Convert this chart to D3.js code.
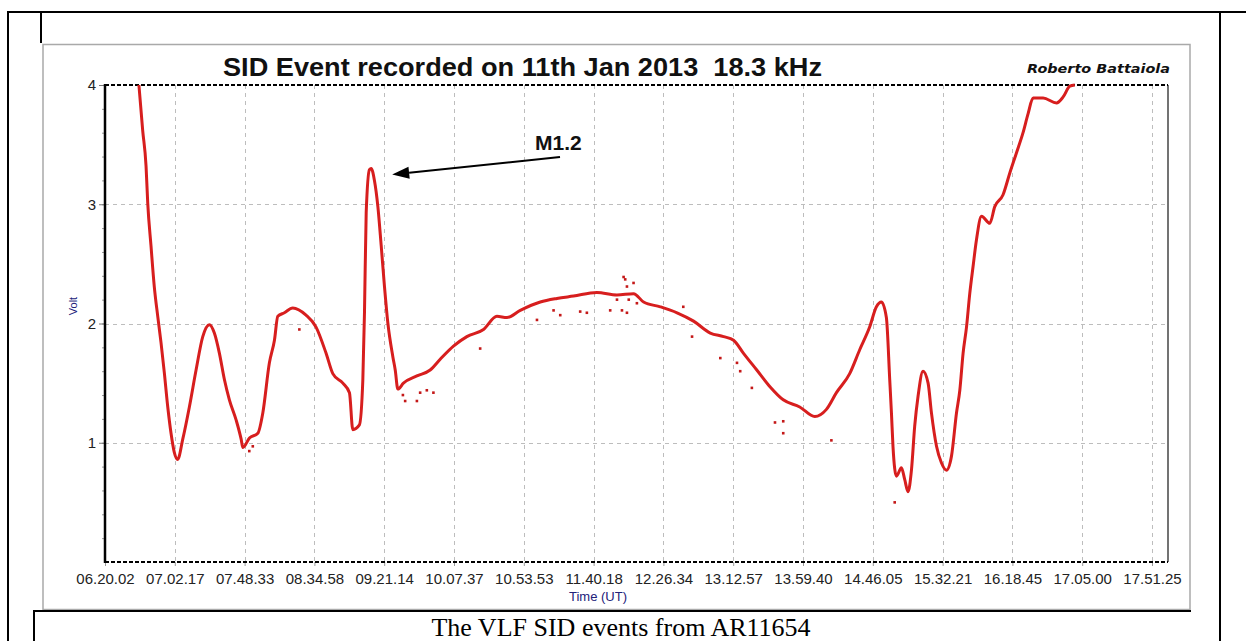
<!DOCTYPE html>
<html>
<head>
<meta charset="utf-8">
<script src="https://cdn.jsdelivr.net/npm/d3@7"></script>
<style>
  html, body { margin: 0; padding: 0; background: #fff; }
  svg text { font-family: "Liberation Sans", Arial, sans-serif; }
</style>
</head>
<body>
<div id="chart"></div>
<script>
// tick labels of the time axis (UT, hh.mm.ss)
var tickLabels = ["06.20.02", "07.02.17", "07.48.33", "08.34.58", "09.21.14", "10.07.37",
  "10.53.53", "11.40.18", "12.26.34", "13.12.57", "13.59.40", "14.46.05",
  "15.32.21", "16.18.45", "17.05.00", "17.51.25"];
var voltTicks = [1, 2, 3, 4];

// VLF signal, hours UT / volts
var signalHours = [6.676, 6.714, 6.748, 6.765, 6.798, 6.831, 6.866, 6.899, 6.932, 6.967,
  7.000, 7.033, 7.070, 7.126, 7.199, 7.273, 7.347, 7.420, 7.475, 7.531,
  7.586, 7.641, 7.716, 7.771, 7.790, 7.863, 7.956, 8.011, 8.084, 8.140,
  8.177, 8.250, 8.343, 8.490, 8.601, 8.712, 8.786, 8.897, 8.970, 9.007,
  9.080, 9.118, 9.136, 9.155, 9.191, 9.210, 9.246, 9.284, 9.321, 9.357,
  9.395, 9.450, 9.476, 9.505, 9.567, 9.716, 9.863, 9.974, 10.121, 10.269,
  10.453, 10.601, 10.712, 10.859, 11.081, 11.265, 11.449, 11.708, 11.930, 12.113,
  12.224, 12.409, 12.594, 12.777, 12.962, 13.109, 13.220, 13.331, 13.479, 13.626,
  13.774, 13.958, 14.125, 14.254, 14.365, 14.512, 14.623, 14.733, 14.808, 14.863,
  14.918, 14.955, 14.974, 14.991, 15.029, 15.084, 15.121, 15.157, 15.195, 15.231,
  15.268, 15.323, 15.379, 15.416, 15.472, 15.527, 15.582, 15.638, 15.693, 15.730,
  15.766, 15.804, 15.840, 15.877, 15.914, 15.970, 16.062, 16.117, 16.209, 16.283,
  16.357, 16.430, 16.486, 16.541, 16.652, 16.800, 16.873, 16.947, 17.002];
var signalVolts = [4.00, 3.62, 3.32, 3.01, 2.65, 2.31, 2.06, 1.84, 1.59, 1.30,
  1.08, 0.92, 0.86, 1.03, 1.30, 1.61, 1.89, 1.99, 1.92, 1.75,
  1.53, 1.36, 1.19, 1.03, 0.96, 1.04, 1.08, 1.25, 1.67, 1.86,
  2.06, 2.09, 2.13, 2.07, 1.97, 1.75, 1.58, 1.50, 1.42, 1.11,
  1.15, 1.53, 2.09, 2.93, 3.29, 3.30, 3.20, 2.98, 2.65, 2.31,
  2.00, 1.72, 1.61, 1.45, 1.50, 1.56, 1.61, 1.70, 1.81, 1.89,
  1.95, 2.06, 2.05, 2.11, 2.18, 2.21, 2.23, 2.26, 2.24, 2.25,
  2.18, 2.14, 2.09, 2.02, 1.92, 1.89, 1.86, 1.75, 1.61, 1.47,
  1.36, 1.30, 1.22, 1.28, 1.42, 1.58, 1.78, 1.97, 2.14, 2.18,
  2.05, 1.53, 1.25, 0.97, 0.72, 0.79, 0.69, 0.59, 0.77, 1.14,
  1.39, 1.60, 1.50, 1.25, 0.97, 0.83, 0.77, 0.89, 1.25, 1.44,
  1.75, 1.97, 2.25, 2.48, 2.70, 2.90, 2.84, 2.98, 3.08, 3.26,
  3.43, 3.60, 3.76, 3.89, 3.89, 3.85, 3.90, 3.99, 4.00];

// stray samples off the main trace
var strayHours = [7.861, 7.900, 8.416, 9.561, 9.586, 9.716, 9.752, 9.826, 9.899, 10.416,
  11.044, 11.228, 11.302, 11.523, 11.597, 11.855, 11.930, 11.985, 12.003, 12.021,
  12.040, 12.040, 12.060, 12.113, 12.150, 12.663, 12.760, 13.073, 13.258, 13.294,
  13.424, 13.682, 13.774, 13.774, 14.309, 15.010];
var strayVolts = [0.93, 0.97, 1.95, 1.40, 1.35, 1.35, 1.42, 1.44, 1.42, 1.79,
  2.03, 2.11, 2.07, 2.10, 2.09, 2.11, 2.20, 2.11, 2.39, 2.37,
  2.31, 2.09, 2.20, 2.34, 2.17, 2.14, 1.89, 1.71, 1.67, 1.60,
  1.46, 1.17, 1.18, 1.08, 1.02, 0.50];

var W = 1246, H = 641;
var red = "#d71e1e";

function toHours(s) {
  var p = s.split(".").map(Number);
  return p[0] + p[1] / 60 + p[2] / 3600;
}
var tickHours = tickLabels.map(toHours);

var svg = d3.select("#chart").append("svg")
    .attr("width", W)
    .attr("height", H);

// page table lines round the picture
var frame = svg.append("g").attr("stroke", "#000").attr("stroke-width", 2);
frame.append("line").attr("x1", 8).attr("y1", 12).attr("x2", W).attr("y2", 12);
frame.append("line").attr("x1", 8).attr("y1", 11).attr("x2", 8).attr("y2", H);
frame.append("line").attr("x1", 41).attr("y1", 12).attr("x2", 41).attr("y2", 43);
frame.append("line").attr("x1", 1220).attr("y1", 11).attr("x2", 1220).attr("y2", H);

// picture border
svg.append("rect")
    .attr("x", 43).attr("y", 44.5)
    .attr("width", 1147).attr("height", 565)
    .attr("fill", "#fff")
    .attr("stroke", "#a9a9a9")
    .attr("stroke-width", 1.5);

frame = svg.append("g").attr("stroke", "#000").attr("stroke-width", 2);
frame.append("line").attr("x1", 33).attr("y1", 611).attr("x2", 1191).attr("y2", 611);
frame.append("line").attr("x1", 34).attr("y1", 610).attr("x2", 34).attr("y2", H);

// plot area
var pLeft = 105, pRight = 1168, pTop = 85, pBottom = 562;

var idx = d3.scaleLinear().domain([0, tickLabels.length - 1]).range([pLeft, 1152]);
var x = d3.scaleLinear()
    .domain(tickHours)
    .range(tickHours.map(function(d, i) { return idx(i); }));
var y = d3.scaleLinear().domain([0, 4]).range([pBottom, pTop]);

// grid
var grid = svg.append("g")
    .attr("stroke", "#bdbdbd")
    .attr("stroke-width", 1)
    .attr("stroke-dasharray", "4,4");
grid.selectAll("line.v")
  .data(tickHours.slice(1))
  .enter().append("line")
    .attr("class", "v")
    .attr("x1", function(d) { return Math.round(x(d)) + 0.5; })
    .attr("x2", function(d) { return Math.round(x(d)) + 0.5; })
    .attr("y1", pTop)
    .attr("y2", pBottom);
grid.selectAll("line.h")
  .data([1, 2, 3])
  .enter().append("line")
    .attr("class", "h")
    .attr("x1", pLeft)
    .attr("x2", pRight)
    .attr("y1", function(d) { return Math.round(y(d)) + 0.5; })
    .attr("y2", function(d) { return Math.round(y(d)) + 0.5; });

// x axis
var xAxis = svg.append("g")
    .attr("transform", "translate(0," + pBottom + ")")
    .call(d3.axisBottom(x)
      .tickValues(tickHours)
      .tickFormat(function(d, i) { return tickLabels[i]; })
      .tickSize(4)
      .tickPadding(7));
xAxis.select(".domain").remove();
xAxis.selectAll(".tick line").attr("stroke", "#999");
xAxis.selectAll(".tick text")
    .attr("fill", "#222")
    .style("font-size", "15px");

// y axis: minor ticks every 0.2, labels on whole volts
var yMinor = svg.append("g")
    .attr("transform", "translate(" + pLeft + ",0)")
    .call(d3.axisLeft(y)
      .tickValues(d3.range(1, 20).map(function(d) { return d / 5; }))
      .tickSize(3)
      .tickFormat(""));
yMinor.select(".domain").remove();
yMinor.selectAll(".tick line").attr("stroke", "#999");

var yAxis = svg.append("g")
    .attr("transform", "translate(" + pLeft + ",0)")
    .call(d3.axisLeft(y)
      .tickValues(voltTicks)
      .tickFormat(d3.format("d"))
      .tickSize(6)
      .tickPadding(3));
yAxis.select(".domain").remove();
yAxis.selectAll(".tick line").attr("stroke", "#777");
yAxis.selectAll(".tick text")
    .attr("fill", "#222")
    .style("font-size", "15px");

// plot borders
svg.append("line")
    .attr("x1", pRight).attr("x2", pRight)
    .attr("y1", pTop).attr("y2", pBottom)
    .attr("stroke", "#444").attr("stroke-width", 1.5);
svg.selectAll("line.edge")
  .data([pTop, pBottom])
  .enter().append("line")
    .attr("class", "edge")
    .attr("x1", pLeft).attr("x2", pRight)
    .attr("y1", function(d) { return d; })
    .attr("y2", function(d) { return d; })
    .attr("stroke", "#000")
    .attr("stroke-width", 2)
    .attr("stroke-dasharray", "4,2");
svg.append("line")
    .attr("x1", pLeft).attr("x2", pLeft)
    .attr("y1", pTop - 1).attr("y2", pBottom + 1)
    .attr("stroke", "#000").attr("stroke-width", 2.5);

// signal
var signal = signalHours.map(function(h, i) { return [h, signalVolts[i]]; });
var stray = strayHours.map(function(h, i) { return [h, strayVolts[i]]; });

var line = d3.line()
    .x(function(d) { return x(d[0]); })
    .y(function(d) { return y(d[1]); })
    .curve(d3.curveMonotoneX);

svg.append("path")
    .datum(signal)
    .attr("fill", "none")
    .attr("stroke", red)
    .attr("stroke-width", 3)
    .attr("stroke-linejoin", "round")
    .attr("d", line);

svg.selectAll("rect.stray")
  .data(stray)
  .enter().append("rect")
    .attr("class", "stray")
    .attr("x", function(d) { return x(d[0]) - 1.3; })
    .attr("y", function(d) { return y(d[1]) - 1.3; })
    .attr("width", 2.6)
    .attr("height", 2.6)
    .attr("fill", "#c41818");

// annotation of the flare peak
var peak = signal[d3.maxIndex(signal.slice(5, 60), function(d) { return d[1]; }) + 5];
var tip = [x(peak[0]) + 21, y(peak[1]) + 6],
    tail = [560, 157];
var dx = tip[0] - tail[0], dy = tip[1] - tail[1],
    len = Math.sqrt(dx * dx + dy * dy),
    ux = dx / len, uy = dy / len;
var base = [tip[0] - 17 * ux, tip[1] - 17 * uy];
svg.append("line")
    .attr("x1", tail[0]).attr("y1", tail[1])
    .attr("x2", base[0]).attr("y2", base[1])
    .attr("stroke", "#000").attr("stroke-width", 2);
svg.append("path")
    .attr("d", "M" + tip[0] + "," + tip[1] +
      "L" + (base[0] - 6 * uy) + "," + (base[1] + 6 * ux) +
      "L" + (base[0] + 6 * uy) + "," + (base[1] - 6 * ux) + "Z")
    .attr("fill", "#000");
svg.append("text")
    .attr("x", 535).attr("y", 150)
    .style("font-size", "21px")
    .style("font-weight", "bold")
    .attr("fill", "#111")
    .text("M1.2");

// titles
svg.append("text")
    .attr("x", 223).attr("y", 76)
    .attr("textLength", 599)
    .attr("lengthAdjust", "spacingAndGlyphs")
    .style("font-size", "25px")
    .style("font-weight", "bold")
    .style("white-space", "pre")
    .attr("fill", "#111")
    .text("SID Event recorded on 11th Jan 2013  18.3 kHz");

svg.append("text")
    .attr("x", 1027).attr("y", 73)
    .attr("textLength", 143)
    .attr("lengthAdjust", "spacingAndGlyphs")
    .style("font-family", "'DejaVu Sans', sans-serif")
    .style("font-size", "13px")
    .style("font-weight", "bold")
    .style("font-style", "italic")
    .attr("fill", "#111")
    .text("Roberto Battaiola");

svg.append("text")
    .attr("transform", "translate(77,306) rotate(-90)")
    .attr("text-anchor", "middle")
    .style("font-size", "11px")
    .attr("fill", "#22227a")
    .text("Volt");

svg.append("text")
    .attr("x", 598).attr("y", 601)
    .attr("text-anchor", "middle")
    .style("font-size", "13px")
    .attr("fill", "#22227a")
    .text("Time (UT)");

svg.append("text")
    .attr("x", 621).attr("y", 636)
    .attr("text-anchor", "middle")
    .style("font-family", "'Liberation Serif', 'Times New Roman', serif")
    .style("font-size", "26px")
    .attr("fill", "#000")
    .text("The VLF SID events from AR11654");
</script>
</body>
</html>
